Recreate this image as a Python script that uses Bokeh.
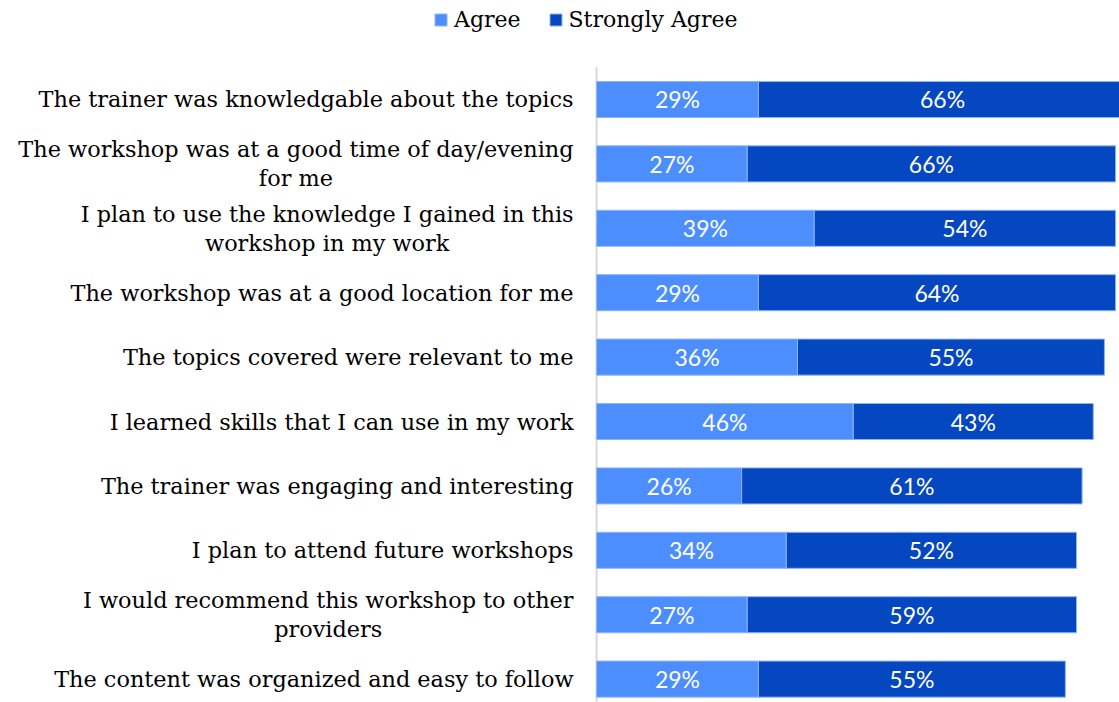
from bokeh.plotting import figure
from bokeh.models import ColumnDataSource, Range1d, Legend, LegendItem, Label
from bokeh.core.properties import value
from bokeh.embed import file_html
from bokeh.resources import INLINE

categories = [
    "The trainer was knowledgable about the topics",
    "The workshop was at a good time of day/evening\nfor me",
    "I plan to use the knowledge I gained in this\nworkshop in my work",
    "The workshop was at a good location for me",
    "The topics covered were relevant to me",
    "I learned skills that I can use in my work",
    "The trainer was engaging and interesting",
    "I plan to attend future workshops",
    "I would recommend this workshop to other\nproviders",
    "The content was organized and easy to follow",
]
agree = [29, 27, 39, 29, 36, 46, 26, 34, 27, 29]
strongly_agree = [66, 66, 54, 64, 55, 43, 61, 52, 59, 55]
series_names = ["Agree", "Strongly Agree"]
series_colors = ["#4D8EFF", "#0447C1"]

SERIF = "DejaVu Serif"

pos = list(range(len(categories)))
total = [a + s for a, s in zip(agree, strongly_agree)]
src = ColumnDataSource(dict(
    y=pos,
    agree=agree,
    total=total,
    agree_mid=[a / 2 for a in agree],
    sa_mid=[a + s / 2 for a, s in zip(agree, strongly_agree)],
    agree_lbl=[f"{a}%" for a in agree],
    sa_lbl=[f"{s}%" for s in strongly_agree],
))

# frame covers the whole figure; category labels sit left of x = 0
p = figure(width=1119, height=702,
           x_range=Range1d(-106.8, 93.7), y_range=Range1d(9.363, -1.537),
           output_backend="svg", toolbar_location=None,
           x_axis_location=None, y_axis_location=None,
           min_border=0)
p.outline_line_color = None
p.xgrid.visible = False
p.ygrid.visible = False
p.background_fill_color = "white"
p.border_fill_color = "white"

# category axis line
p.segment(x0=[0], y0=[-0.5], x1=[0], y1=[len(categories) - 0.5],
          line_color="#d9d9d9", line_width=2)

r1 = p.hbar(y="y", left=0, right="agree", height=0.56, source=src,
            fill_color=series_colors[0], line_color="#8fb4f2", line_width=1)
r2 = p.hbar(y="y", left="agree", right="total", height=0.56, source=src,
            fill_color=series_colors[1], line_color="#8fb4f2", line_width=1)

for xcol, tcol in (("agree_mid", "agree_lbl"), ("sa_mid", "sa_lbl")):
    p.text(x=xcol, y="y", text=tcol, source=src, text_align="center",
           text_baseline="middle", text_color="white",
           text_font=value("Lato"), text_font_size="23px")

for yi, cat in zip(pos, categories):
    p.add_layout(Label(x=0, y=yi, x_offset=-23, text=cat,
                       text_align="center", anchor="center_right",
                       text_font=SERIF, text_font_size="22.4px",
                       text_color="#000000", text_line_height=1.12))

legend = Legend(items=[LegendItem(label=series_names[0], renderers=[r1]),
                       LegendItem(label=series_names[1], renderers=[r2])],
                orientation="horizontal", location=(433, 670),
                padding=0, margin=0, spacing=27, label_standoff=6,
                glyph_width=15, glyph_height=15,
                border_line_color=None, background_fill_alpha=0,
                label_text_font=SERIF, label_text_font_size="22px",
                label_text_color="#000000")
p.add_layout(legend, "center")

open("out.html", "w").write(file_html(p, INLINE))
